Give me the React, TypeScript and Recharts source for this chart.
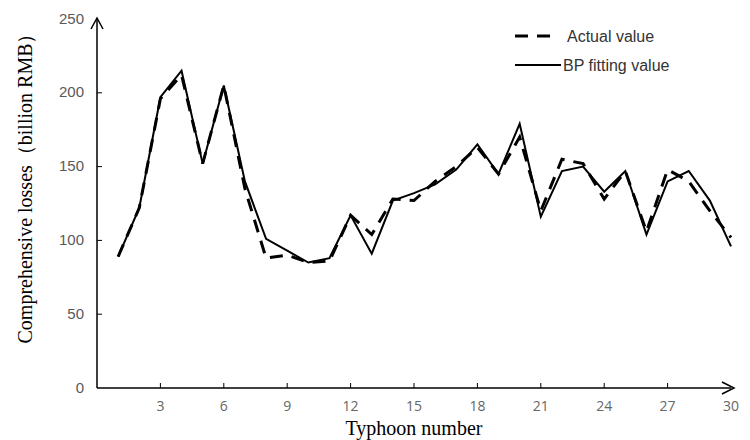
import { LineChart, Line, XAxis, YAxis } from "recharts";

const typhoons = [
  1, 2, 3, 4, 5, 6, 7, 8, 9, 10, 11, 12, 13, 14, 15, 16, 17, 18, 19, 20, 21, 22, 23, 24, 25, 26, 27, 28, 29, 30,
];
const actualValues = [
  89, 122, 196, 212, 152, 205, 135, 88, 90, 85, 86, 117, 104, 128, 127, 140, 150, 163, 145, 170, 120, 155, 152, 128,
  147, 106, 148, 140, 120, 102,
];
const bpValues = [
  89, 122, 197, 215, 152, 205, 140, 101, 93, 85, 88, 117, 91, 127, 132, 138, 148, 165, 145, 179, 116, 147, 150, 133,
  147, 104, 140, 147, 127, 96,
];
const xTicks = [3, 6, 9, 12, 15, 18, 21, 24, 27, 30];
const yTicks = [0, 50, 100, 150, 200, 250];

const data = typhoons.map((t, i) => ({ t, actual: actualValues[i], bp: bpValues[i] }));

const XTick = ({ x, y, payload }: any) => (
  <g>
    {payload.value !== 30 && <line x1={x} y1={y} x2={x} y2={y - 5} stroke="#000" strokeWidth={1} />}
    {payload.value === 30 && (
      <polyline points={`${x - 9},${y - 6} ${x + 3},${y} ${x - 9},${y + 6}`} fill="none" stroke="#000" strokeWidth={1.5} />
    )}
    <text x={x} y={y + 17} textAnchor="middle" dominantBaseline="central" fill="#666" fontSize={14} fontFamily="Open Sans, sans-serif">
      {payload.value}
    </text>
  </g>
);

const YTick = ({ x, y, payload }: any) => (
  <g>
    {payload.value !== 250 && payload.value !== 0 && <line x1={x} y1={y} x2={x + 5} y2={y} stroke="#000" strokeWidth={1} />}
    {payload.value === 250 && (
      <polyline points={`${x - 6},${y + 10} ${x},${y - 1} ${x + 6},${y + 10}`} fill="none" stroke="#000" strokeWidth={1.5} />
    )}
    <text x={x - 13} y={y - 1} textAnchor="end" dominantBaseline="central" fill="#595959" fontSize={15} fontFamily="Liberation Sans, Arial, sans-serif">
      {payload.value}
    </text>
  </g>
);

const LegendBox = () => (
  <svg width={220} height={60} style={{ position: "absolute", left: 513, top: 22 }}>
    <line x1={2} y1={14} x2={42} y2={14} stroke="#000" strokeWidth={3} strokeDasharray="13 9" />
    <text x={54} y={14} dominantBaseline="central" fill="#333" fontSize={16} fontFamily="Liberation Sans, Arial, sans-serif">
      Actual value
    </text>
    <line x1={2} y1={43} x2={48} y2={43} stroke="#000" strokeWidth={2} />
    <text x={50} y={43} dominantBaseline="central" fill="#333" fontSize={16} fontFamily="Liberation Sans, Arial, sans-serif">
      BP fitting value
    </text>
  </svg>
);

export default function App() {
  return (
    <div style={{ position: "absolute", left: 0, top: 0, width: 750, height: 440, background: "#fff" }}>
      <LineChart width={750} height={440} data={data} margin={{ top: 19, right: 19, bottom: 0, left: 0 }}>
        <XAxis
          dataKey="t"
          type="number"
          domain={[0, 30]}
          ticks={xTicks}
          height={52}
          tickSize={0}
          tickMargin={0}
          tick={<XTick />}
          axisLine={{ stroke: "#000", strokeWidth: 1.5 }}
          label={{ value: "Typhoon number", position: "insideBottom", offset: 5, fill: "#000", fontSize: 20, fontFamily: "Liberation Serif, serif" }}
        />
        <YAxis
          type="number"
          domain={[0, 250]}
          ticks={yTicks}
          width={97}
          tickSize={0}
          tickMargin={0}
          tick={<YTick />}
          axisLine={{ stroke: "#000", strokeWidth: 1.5 }}
          label={{
            value: "Comprehensive losses（billion RMB）",
            angle: -90,
            position: "insideLeft",
            offset: 25,
            dy: -20,
            style: { textAnchor: "middle" },
            fill: "#000",
            fontSize: 20,
            fontFamily: "Liberation Serif, serif",
          }}
        />
        <Line
          dataKey="actual"
          name="Actual value"
          stroke="#000"
          strokeWidth={3}
          strokeDasharray="13 9"
          dot={false}
          isAnimationActive={false}
        />
        <Line dataKey="bp" name="BP fitting value" stroke="#000" strokeWidth={2} dot={false} isAnimationActive={false} />
      </LineChart>
      <LegendBox />
    </div>
  );
}
